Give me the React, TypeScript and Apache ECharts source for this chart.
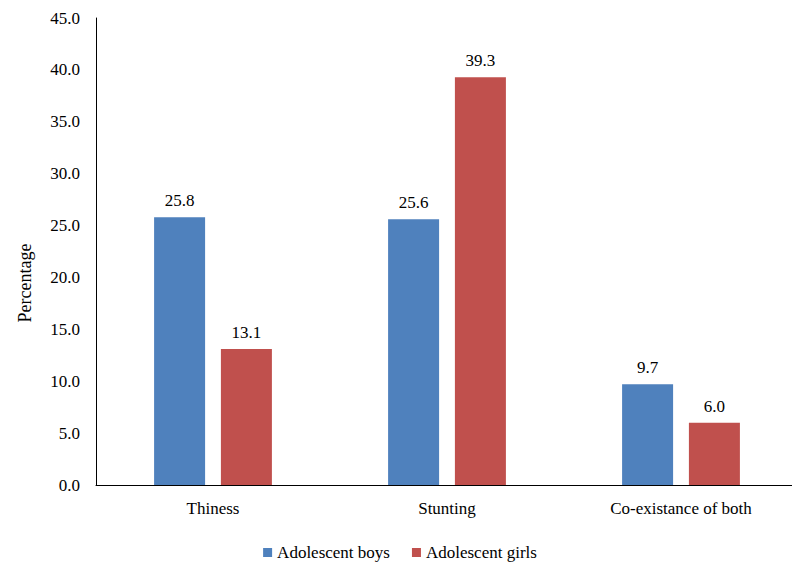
import React, { useEffect, useRef } from "react";
import * as echarts from "echarts";

const categories = ["Thiness", "Stunting", "Co-existance of both"];
const boys = [25.8, 25.6, 9.7];
const girls = [13.1, 39.3, 6.0];
const seriesNames = ["Adolescent boys", "Adolescent girls"];
const yAxisTitle = "Percentage";

const FONT = "Liberation Serif";

export default function App() {
  const ref = useRef<HTMLDivElement>(null);
  useEffect(() => {
    if (!ref.current) return;
    const chart = echarts.init(ref.current, null, { renderer: "svg" });
    const label = {
      show: true,
      position: "top" as const,
      distance: 8,
      color: "#000",
      fontFamily: FONT,
      fontSize: 17,
      formatter: (p: any) => Number(p.value).toFixed(1),
    };
    chart.setOption({
      animation: false,
      backgroundColor: "#fff",
      textStyle: { fontFamily: FONT },
      grid: { left: 96, right: 2, top: 18, bottom: 86 },
      graphic: [
        {
          type: "text",
          x: 25,
          y: 283,
          rotation: Math.PI / 2,
          style: {
            text: yAxisTitle,
            fontFamily: FONT,
            fontSize: 18,
            fill: "#000",
            textAlign: "center",
            textVerticalAlign: "middle",
          },
        },
      ],
      legend: {
        bottom: 5,
        left: "center",
        itemWidth: 9,
        itemHeight: 9,
        itemGap: 22,
        icon: "rect",
        textStyle: { fontFamily: FONT, fontSize: 17, color: "#000" },
        data: seriesNames,
      },
      xAxis: {
        type: "category",
        data: categories,
        axisLine: { lineStyle: { color: "#000", width: 1 } },
        axisTick: { show: false },
        axisLabel: { color: "#000", fontFamily: FONT, fontSize: 17, margin: 15 },
      },
      yAxis: {
        type: "value",
        min: 0,
        max: 45,
        interval: 5,
        axisLine: { show: true, lineStyle: { color: "#000", width: 1 } },
        axisTick: { show: false },
        splitLine: { show: false },
        axisLabel: {
          color: "#000",
          fontFamily: FONT,
          fontSize: 17,
          margin: 16,
          formatter: (v: number) => v.toFixed(1),
        },
      },
      series: [
        {
          name: seriesNames[0],
          type: "bar",
          data: boys,
          barWidth: 51,
          barGap: "31%",
          itemStyle: { color: "#4F81BD" },
          label,
        },
        {
          name: seriesNames[1],
          type: "bar",
          data: girls,
          barWidth: 51,
          barGap: "31%",
          itemStyle: { color: "#C0504D" },
          label,
        },
      ],
    });
    return () => chart.dispose();
  }, []);
  return <div ref={ref} style={{ width: 800, height: 571, margin: -8 }} />;
}
